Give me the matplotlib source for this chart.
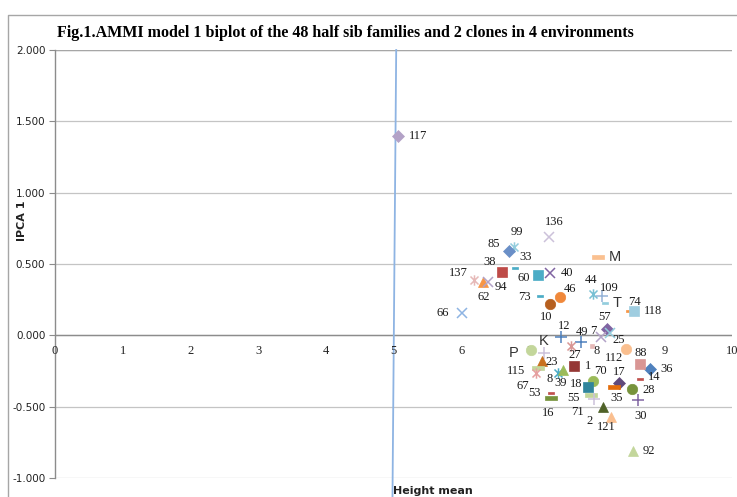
import matplotlib
matplotlib.use("Agg")
import matplotlib.pyplot as plt
from matplotlib.path import Path
from matplotlib.lines import Line2D

# Genotype names, mean height (x) and first interaction PCA score (y)
genotypes = ["117", "136", "99", "85", "33", "M", "38", "60", "40", "137",
             "62", "94", "73", "46", "10", "44", "109", "T", "74", "118",
             "66", "57", "12", "49", "7", "112", "25", "27", "", "P",
             "K", "23", "67", "115", "8", "39", "1", "70", "18", "17",
             "35", "28", "30", "14", "36", "88", "53", "16", "55", "71",
             "2", "121", "92"]
height_mean = [5.07, 7.29, 6.78, 6.70, 6.80, 8.02, 6.60, 7.13, 7.31, 6.19,
               6.32, 6.39, 7.16, 7.46, 7.31, 7.94, 8.08, 8.12, 8.48, 8.55,
               6.01, 8.15, 7.47, 7.77, 8.06, 8.20, 8.43, 7.62, 7.93, 7.03,
               7.22, 7.19, 7.13, 7.10, 7.43, 7.50, 7.66, 7.94, 7.88, 8.33,
               8.25, 8.52, 8.61, 8.64, 8.79, 8.64, 7.32, 7.32, 7.91, 7.96,
               8.09, 8.21, 8.54]
ipca1 = [1.394, 0.686, 0.616, 0.588, 0.469, 0.546, 0.441, 0.420, 0.434, 0.385,
         0.371, 0.371, 0.273, 0.266, 0.217, 0.287, 0.273, 0.224, 0.168, 0.168,
         0.154, 0.042, -0.014, -0.049, -0.014, 0.014, -0.098, -0.077, -0.077, -0.105,
         -0.126, -0.182, -0.231, -0.266, -0.266, -0.245, -0.217, -0.322, -0.364, -0.336,
         -0.364, -0.378, -0.455, -0.308, -0.238, -0.203, -0.406, -0.441, -0.420, -0.448,
         -0.504, -0.574, -0.812]

# Mean-height reference line
mean_line_x = [5.04, 4.985]
mean_line_y = [2.0, -1.13]

x_ticks = list(range(0, 11))
y_ticks = [-1.0, -0.5, 0.0, 0.5, 1.0, 1.5, 2.0]
clones = {"M", "T", "K", "P"}

# ---- styles ----
marker_kind = ["D", "x", "ast", "D", "dash", "bar", "s", "s", "x", "ast",
               "^", "x", "dash", "o", "o", "ast", "+", "dash", "dash", "s",
               "x", "D", "+", "+", "x", "x", "o", "ast", "sq", "o",
               "+", "^", "bar", "ast", "ast", "^", "s", "o", "s", "D",
               "bar", "o", "+", "dash", "D", "s", "dash", "bar", "bar", "+",
               "^", "^", "^"]
marker_color = ["#b3a2c7", "#ccc1da", "#93cddd", "#6a8fc7", "#4bacc6", "#fac090",
                "#be4b48", "#4bacc6", "#8064a2", "#e6b9b8", "#f79646", "#b3a2c7",
                "#4bacc6", "#f0883a", "#b65f1e", "#78c0d4", "#95b3d7", "#93cddd",
                "#f79646", "#9fcde0", "#8eb4e3", "#8064a2", "#4f81bd", "#4f81bd",
                "#b3a2c7", "#93cddd", "#fabf8f", "#d99694", "#e6b9b8", "#c3d69b",
                "#ccc1da", "#c8701e", "#c3d69b", "#e6a0a0", "#4bacc6", "#9bbb59",
                "#953735", "#9bbb59", "#31859c", "#604a7b", "#e46c0a", "#77933c",
                "#8064a2", "#c0504d", "#4f81bd", "#d99694", "#c0504d", "#77933c",
                "#c3d69b", "#ccc1da", "#4f6228", "#fabf8f", "#c3d69b"]
label_offset = [(20, 0), (6, 15), (3, 15), (-15, 7), (10, 11), (17, 0), (-12, 10),
                (-14, -3), (17, 0), (-16, 7), (1, -15), (13, -5), (-15, -1), (10, 8),
                (-4, -13), (-2, 14), (7, 8), (12, 0), (5, 9), (19, 0), (-19, 0),
                (-2, 12), (3, 11), (1, 10), (-7, 6), (4, -25), (-7, 9), (4, -9),
                (2, -9), (-17, -3), (0, 12), (10, -1), (-15, -18), (-20, 2),
                (-8, -6), (-2, -13), (14, 0), (8, 10), (-12, 3), (0, 11), (3, -11),
                (17, -1), (3, -16), (14, 2), (17, 0), (1, 11), (-16, 0), (-2, -15),
                (-17, -3), (-16, -13), (-13, -14), (-5, -10), (16, 0)]

asterisk = Path([(-1, -1), (1, 1), (-1, 1), (1, -1), (0, -1.3), (0, 1.3)],
                [Path.MOVETO, Path.LINETO, Path.MOVETO, Path.LINETO,
                 Path.MOVETO, Path.LINETO])
dash = Path([(-1, -0.38), (1, -0.38), (1, 0.38), (-1, 0.38), (-1, -0.38)],
            [Path.MOVETO, Path.LINETO, Path.LINETO, Path.LINETO, Path.CLOSEPOLY])

marker_style = {
    "D": dict(marker="D", ms=6.0, filled=True),
    "s": dict(marker="s", ms=7.0, filled=True),
    "sq": dict(marker="s", ms=3.5, filled=True),
    "^": dict(marker="^", ms=7.5, filled=True),
    "o": dict(marker="o", ms=7.5, filled=True),
    "x": dict(marker="x", ms=7.0, filled=False),
    "+": dict(marker="+", ms=8.0, filled=False),
    "ast": dict(marker=asterisk, ms=7.5, filled=False),
    "dash": dict(marker=dash, ms=5.0, filled=True),
    "bar": dict(marker=dash, ms=9.0, filled=True),
}

W, H = 737, 497
fig = plt.figure(figsize=(W / 100, H / 100), dpi=100)

# plot area in pixel coordinates: left 55, right 732, top 50, bottom 478
ax = fig.add_axes([55 / W, 1 - 478 / H, (732 - 55) / W, (478 - 50) / H])
ax.set_xlim(0, 10)
ax.set_ylim(-1.0, 2.0)

# chart frame
fig.add_artist(Line2D([8 / W, 8 / W, 1.0], [0.0, 1 - 15 / H, 1 - 15 / H],
                      transform=fig.transFigure, color="#a6a6a6", lw=1.0))

for v in y_ticks:
    ax.axhline(v, color="#c4c4c4", lw=0.9, zorder=0)
ax.axhline(2.0, color="#a6a6a6", lw=1.0, zorder=0)
ax.axhline(0.0, color="#8c8c8c", lw=1.0, zorder=1)

for s in ["top", "right", "bottom"]:
    ax.spines[s].set_visible(False)
ax.spines["left"].set_color("#8c8c8c")
ax.spines["left"].set_linewidth(1.0)

ax.set_yticks(y_ticks)
ax.set_yticklabels([f"{v:.3f}" for v in y_ticks], fontsize=7.5,
                   family="DejaVu Sans", color="#222222")
ax.tick_params(axis="y", direction="out", length=4, color="#8c8c8c", pad=3)
ax.set_xticks([])

# x tick labels sit just under the zero line
for t in x_ticks:
    ax.text(t, -0.065, str(t), ha="center", va="top", fontsize=9,
            family="Liberation Serif", color="#222222")

# mean-height reference line
ax.plot(mean_line_x, mean_line_y, color="#8eb4e3", lw=1.3, zorder=1, clip_on=False)
ax.text(mean_line_x[1] + 0.01, -1.09, "Height mean", ha="left", va="center",
        fontsize=8, fontweight="bold", family="DejaVu Sans", color="#222222")

for name, x, y, kind, col, off in zip(genotypes, height_mean, ipca1,
                                      marker_kind, marker_color, label_offset):
    st = marker_style[kind]
    if st["filled"]:
        ax.plot([x], [y], linestyle="none", marker=st["marker"], ms=st["ms"],
                mfc=col, mec=col, mew=0.5, zorder=3)
    else:
        ax.plot([x], [y], linestyle="none", marker=st["marker"], ms=st["ms"],
                mfc="none", mec=col, mew=1.1, zorder=3)
    if not name:
        continue
    if name in clones:
        ax.annotate(name, (x, y), xytext=off, textcoords="offset pixels",
                    ha="center", va="center", fontsize=10.5,
                    family="Liberation Sans", color="#333333", zorder=4)
    else:
        ax.annotate(name, (x, y), xytext=off, textcoords="offset pixels",
                    ha="center", va="center", fontsize=9,
                    family="Liberation Serif", color="#1a1a1a", zorder=4)

fig.text(22 / W, 1 - 221 / H, "IPCA 1", rotation=90, ha="center", va="center",
         fontsize=8, fontweight="bold", family="DejaVu Sans", color="#222222")

fig.text(57 / W, 1 - 33 / H,
         "Fig.1.AMMI model 1 biplot of the 48 half sib families and 2 clones in 4 environments",
         ha="left", va="center", fontsize=11.5, fontweight="bold",
         family="Liberation Serif", color="#000000")

fig.savefig("out.png", dpi=100)
